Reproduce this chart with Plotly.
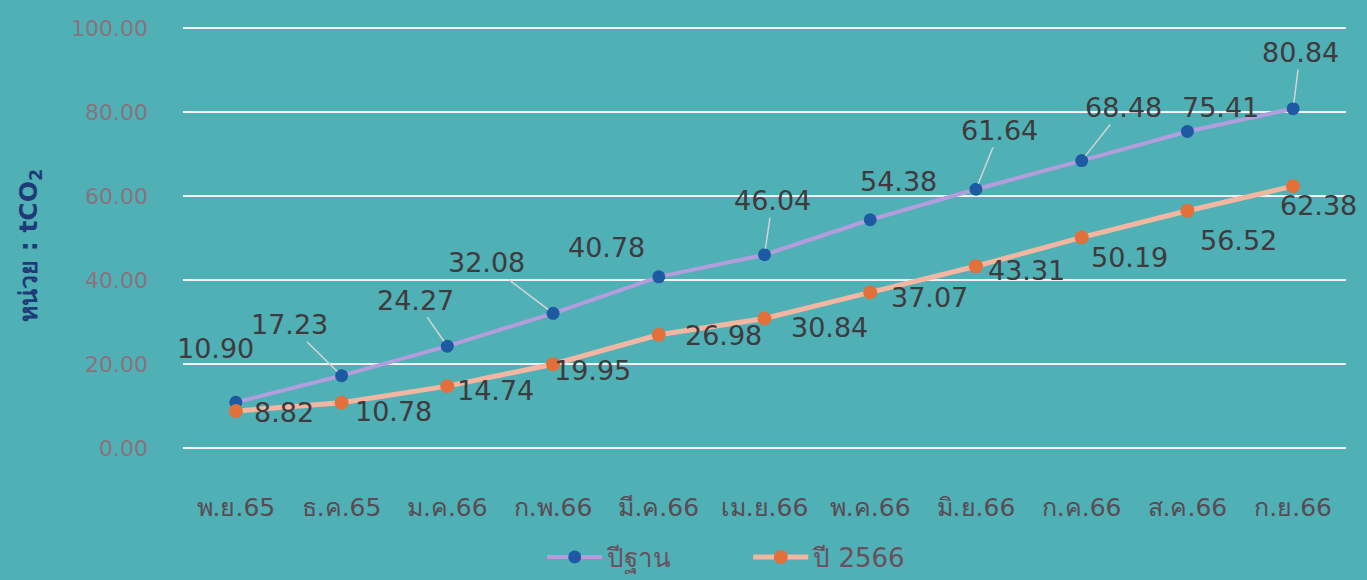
import plotly.graph_objects as go

categories = ["พ.ย.65", "ธ.ค.65", "ม.ค.66", "ก.พ.66", "มี.ค.66", "เม.ย.66",
              "พ.ค.66", "มิ.ย.66", "ก.ค.66", "ส.ค.66", "ก.ย.66"]
base_values = [10.90, 17.23, 24.27, 32.08, 40.78, 46.04, 54.38, 61.64, 68.48, 75.41, 80.84]
target_values = [8.82, 10.78, 14.74, 19.95, 26.98, 30.84, 37.07, 43.31, 50.19, 56.52, 62.38]
y_ticks = [0, 20, 40, 60, 80, 100]
series_names = ["ปีฐาน", "ปี 2566"]

# label offsets (pixels, x right / y down) and whether a leader line is shown
base_off = [(-20, -54, False), (-52, -51, True), (-32, -46, True), (-67, -51, True),
            (-52, -29, False), (8, -54, True), (28, -38, False), (24, -59, True),
            (42, -53, True), (33, -24, False), (7, -56, True)]
target_off = [(48, 2), (52, 9), (48, 4), (39, 6), (65, 1), (65, 9), (59, 5),
              (51, 4), (48, 20), (51, 30), (25, 19)]

BG = "#4fb0b6"
FONT = "Tahoma, DejaVu Sans, sans-serif"
LABEL_COLOR = "#3f3a3d"
LABEL_SIZE = 27

fig = go.Figure()
fig.add_trace(go.Scatter(
    x=categories, y=base_values, name=series_names[0], mode="lines+markers",
    line=dict(color="#b39ddc", width=4),
    marker=dict(color="#1d5aa3", size=13),
))
fig.add_trace(go.Scatter(
    x=categories, y=target_values, name=series_names[1], mode="lines+markers",
    line=dict(color="#f3b7a1", width=5),
    marker=dict(color="#e2703a", size=14),
))

annotations = []
for c, v, (dx, dy, arrow) in zip(categories, base_values, base_off):
    if arrow:
        annotations.append(dict(x=c, y=v, text=f"{v:.2f}", showarrow=True,
                                ax=dx, ay=dy, arrowhead=0, arrowwidth=1.5,
                                arrowcolor="#d4d4d4", standoff=6,
                                font=dict(size=LABEL_SIZE, color=LABEL_COLOR, family=FONT)))
    else:
        annotations.append(dict(x=c, y=v, text=f"{v:.2f}", showarrow=False,
                                xshift=dx, yshift=-dy,
                                font=dict(size=LABEL_SIZE, color=LABEL_COLOR, family=FONT)))
for c, v, (dx, dy) in zip(categories, target_values, target_off):
    annotations.append(dict(x=c, y=v, text=f"{v:.2f}", showarrow=False,
                            xshift=dx, yshift=-dy,
                            font=dict(size=LABEL_SIZE, color=LABEL_COLOR, family=FONT)))

annotations.append(dict(xref="paper", yref="paper", x=-0.1316, y=0.482,
                        xanchor="center", yanchor="middle",
                        text="<b>หน่วย : tCO<sub>2</sub></b>", textangle=-90,
                        showarrow=False,
                        font=dict(size=25, color="#1f3a78", family=FONT)))

fig.update_layout(
    width=1367, height=580,
    paper_bgcolor=BG, plot_bgcolor=BG,
    margin=dict(l=183, r=21, t=27, b=132, autoexpand=False),
    font=dict(family=FONT),
    showlegend=True,
    legend=dict(orientation="h", x=0.486, xanchor="center", y=-0.259, yanchor="middle",
                font=dict(size=26, color="#6a4f5c", family=FONT),
                bgcolor="rgba(0,0,0,0)", itemwidth=55, tracegroupgap=0,
                entrywidthmode="pixels", entrywidth=136),
    annotations=annotations,
)
fig.update_xaxes(range=[-0.5, 10.5], showgrid=False, zeroline=False, showline=False,
                 tickfont=dict(size=25, color="#5a4a52", family=FONT),
                 ticks="", ticklabelstandoff=42)
fig.update_yaxes(range=[0, 100.3], tickvals=y_ticks,
                 ticktext=[f"{t:.2f}" for t in y_ticks],
                 showgrid=True, gridcolor="#f4f4f4", gridwidth=2,
                 zeroline=True, zerolinecolor="#f4f4f4", zerolinewidth=2,
                 showline=False,
                 tickfont=dict(size=22, color="#8a737b", family=FONT),
                 ticks="", ticklabelstandoff=34)
fig.update_traces(cliponaxis=False)

fig.write_html("out.html", config={"displayModeBar": False},
               post_script="document.body.style.margin='0';document.body.style.background='" + BG + "';")
